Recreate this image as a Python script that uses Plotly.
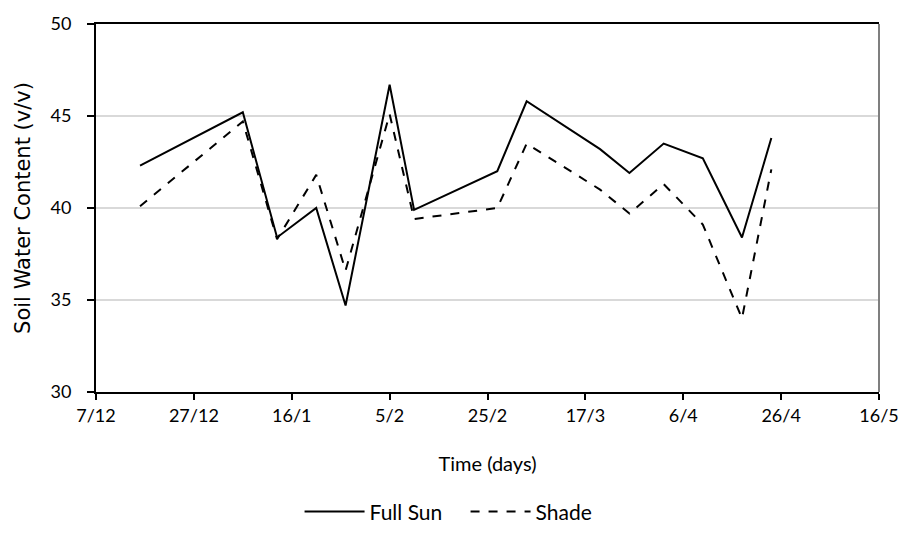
import plotly.graph_objects as go

dates = ["2010-12-16", "2011-01-06", "2011-01-13", "2011-01-21", "2011-01-27",
         "2011-02-05", "2011-02-10", "2011-02-27", "2011-03-05", "2011-03-20",
         "2011-03-26", "2011-04-02", "2011-04-10", "2011-04-18", "2011-04-24"]
full_sun = [42.3, 45.2, 38.4, 40.0, 34.7, 46.7, 39.9, 42.0, 45.8, 43.2,
            41.9, 43.5, 42.7, 38.4, 43.8]
shade = [40.1, 44.7, 38.3, 41.8, 36.6, 45.1, 39.4, 40.0, 43.5, 41.0,
         39.7, 41.3, 39.1, 34.0, 42.1]
y_ticks = [30, 35, 40, 45, 50]

fig = go.Figure()
fig.add_trace(go.Scatter(x=dates, y=full_sun, mode="lines", name="Full Sun",
                         line=dict(color="black", width=2)))
fig.add_trace(go.Scatter(x=dates, y=shade, mode="lines", name="Shade",
                         line=dict(color="black", width=2, dash="dash")))

tick_font = dict(family="Lato", size=18, color="black")
fig.update_layout(
    width=904, height=541,
    margin=dict(l=96, r=25, t=24, b=149),
    paper_bgcolor="white", plot_bgcolor="white",
    showlegend=True,
    legend=dict(orientation="h", xref="container", yref="container",
                x=0.515, xanchor="center", y=0.054, yanchor="middle",
                font=dict(family="Lato", size=21, color="black"),
                itemwidth=60, entrywidth=91, entrywidthmode="pixels"),
    xaxis=dict(type="date", range=["2010-12-07", "2011-05-16"],
               tick0="2010-12-07", dtick=20 * 86400000, tickformat="%-d/%-m",
               showgrid=False, showline=True, linecolor="black", linewidth=2,
               mirror=True, ticks="outside", ticklen=6, tickwidth=1.5,
               tickcolor="black", tickfont=tick_font, automargin=False,
               ticklabelstandoff=0,
               title=dict(text="Time (days)", font=dict(family="Lato", size=20, color="black"),
                          standoff=32)),
    yaxis=dict(range=[30, 50], tickvals=y_ticks, showgrid=True,
               gridcolor="#d9d9d9", gridwidth=1.5, zeroline=False,
               showline=True, linecolor="black", linewidth=2,
               ticks="outside", ticklen=7, tickwidth=1.5, tickcolor="black",
               tickfont=tick_font, automargin=False, ticklabelstandoff=12,
               title=dict(text="Soil Water Content (v/v)",
                          font=dict(family="DejaVu Sans", size=21, color="black"),
                          standoff=14)),
)
fig.add_shape(type="line", xref="paper", yref="paper", x0=1, x1=1, y0=0, y1=1,
              line=dict(color="#7f7f7f", width=2))
fig.write_html("out.html", config={"displayModeBar": False},
               post_script="document.body.style.margin='0';document.body.style.padding='0';")
